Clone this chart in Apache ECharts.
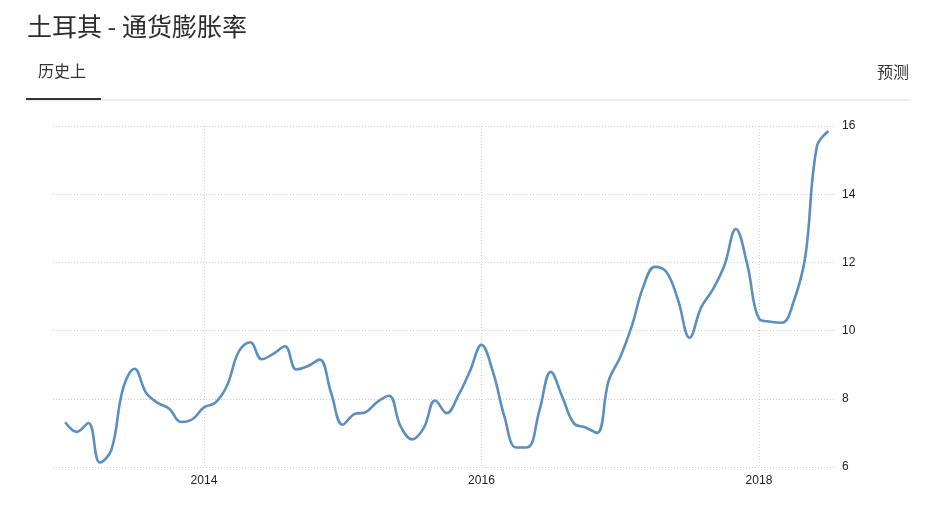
<!DOCTYPE html>
<html>
<head>
<meta charset="utf-8">
<script src="https://cdn.jsdelivr.net/npm/echarts@6/dist/echarts.min.js"></script>
<style>
html,body{margin:0;padding:0;background:#fff;}
#c{width:931px;height:505px;}
</style>
</head>
<body>
<div id="c"></div>
<script>
// Turkey inflation rate, monthly, Jan 2013 .. Jul 2018
var startYear = 2013;
var inflation = [
  7.31, 7.03, 7.29, 6.13, 6.51, 8.30, 8.88, 8.17, 7.88, 7.71, 7.32, 7.40,
  7.75, 7.89, 8.39, 9.38, 9.66, 9.16, 9.32, 9.54, 8.86, 8.96, 9.15, 8.17,
  7.24, 7.55, 7.61, 7.91, 8.09, 7.20, 6.81, 7.14, 7.95, 7.58, 8.10, 8.81,
  9.58, 8.78, 7.46, 6.57, 6.58, 7.64, 8.79, 8.05, 7.28, 7.16, 7.00, 8.53,
  9.22, 10.13, 11.29, 11.87, 11.72, 10.90, 9.79, 10.68, 11.20, 11.90, 12.98, 11.92,
  10.35, 10.26, 10.23, 10.85, 12.15, 15.39, 15.85
];
var xTickLabels = [2014, 2016, 2018];

var seriesData = inflation.map(function (v, i) { return [startYear + i / 12, v]; });

var chart = echarts.init(document.getElementById('c'), null, {renderer: 'canvas'});
var font = '"Noto Sans CJK SC", "Noto Sans", sans-serif';
var numFont = '"Liberation Sans", Arial, sans-serif';
chart.setOption({
  animation: false,
  backgroundColor: '#fff',
  title: {
    text: '土耳其 - 通货膨胀率',
    left: 22, top: 9,
    textStyle: {fontFamily: font, fontSize: 25, fontWeight: 'normal', color: '#2b2b2b'}
  },
  graphic: [
    {type: 'text', left: 38, top: 63, style: {text: '历史上', font: '16px ' + font, fill: '#333'}},
    {type: 'text', right: 22, top: 64, style: {text: '预测', font: '16px ' + font, fill: '#333'}},
    {type: 'rect', shape: {x: 26, y: 99.5, width: 884, height: 1}, style: {fill: '#dddddd'}},
    {type: 'rect', shape: {x: 26, y: 98, width: 75, height: 2}, style: {fill: '#333'}}
  ],
  grid: {left: 53, right: 96, top: 126, bottom: 38, containLabel: false},
  xAxis: {
    type: 'value',
    min: 2012.912, max: 2018.548,
    axisLine: {show: false},
    axisTick: {show: false, customValues: xTickLabels},
    axisLabel: {
      customValues: xTickLabels,
      margin: 8,
      fontFamily: numFont, fontSize: 12, color: '#222',
      formatter: function (v) { return String(Math.round(v)); }
    },
    splitLine: {show: true, lineStyle: {color: '#cfcfcf', type: [1, 2], width: 1}}
  },
  yAxis: {
    type: 'value',
    position: 'right',
    min: 6, max: 16, interval: 2,
    axisLine: {show: false},
    axisTick: {show: false},
    axisLabel: {margin: 7, fontFamily: numFont, fontSize: 12, color: '#222'},
    splitLine: {show: true, lineStyle: {color: '#cfcfcf', type: [1, 2], width: 1}}
  },
  series: [{
    type: 'line',
    data: seriesData,
    smooth: 0.4,
    showSymbol: false,
    lineStyle: {color: '#5a8fbf', width: 2.6},
    itemStyle: {color: '#5a8fbf'}
  }]
});
</script>
</body>
</html>
